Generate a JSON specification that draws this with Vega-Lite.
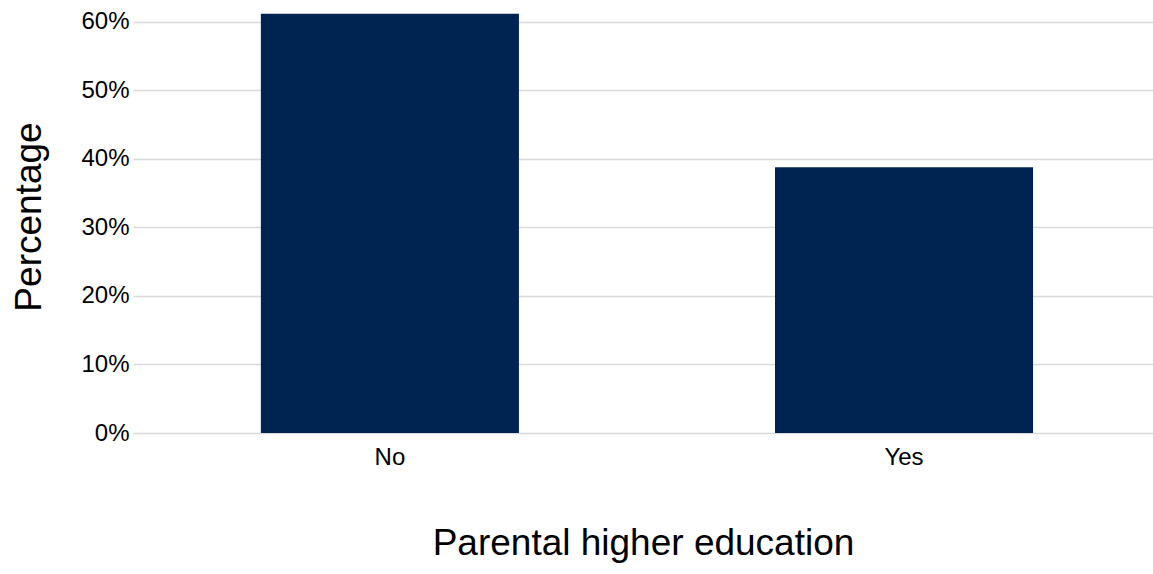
{
  "$schema": "https://vega.github.io/schema/vega-lite/v6.json",
  "width": 1020,
  "height": 433,
  "autosize": {"type": "none"},
  "padding": {"left": 133, "top": 0, "right": 0, "bottom": 141},
  "background": "white",
  "config": {
    "view": {"stroke": null},
    "font": "Liberation Sans"
  },
  "data": {
    "values": [
      {"education": "No", "pct": 0.612},
      {"education": "Yes", "pct": 0.388}
    ]
  },
  "mark": {"type": "bar", "color": "#002452"},
  "encoding": {
    "x": {
      "field": "education",
      "type": "nominal",
      "sort": null,
      "scale": {"paddingInner": 0.498, "paddingOuter": 0.241, "align": 0.516},
      "axis": {
        "title": "Parental higher education",
        "titleFontSize": 37,
        "titleFontWeight": "normal",
        "titleColor": "#000000",
        "titlePadding": 56,
        "labelFontSize": 24,
        "labelColor": "#000000",
        "labelAngle": 0,
        "labelPadding": 12,
        "ticks": false,
        "domain": false,
        "grid": false
      }
    },
    "y": {
      "field": "pct",
      "type": "quantitative",
      "scale": {"domain": [0, 0.632], "nice": false},
      "axis": {
        "title": "Percentage",
        "titleFontSize": 37,
        "titleFontWeight": "normal",
        "titleColor": "#000000",
        "titlePadding": 32,
        "values": [0, 0.1, 0.2, 0.3, 0.4, 0.5, 0.6],
        "format": ".0%",
        "labelFontSize": 24,
        "labelColor": "#000000",
        "labelPadding": 4,
        "ticks": false,
        "domain": false,
        "grid": true,
        "gridColor": "#d9d9d9",
        "gridWidth": 1.5
      }
    }
  }
}
